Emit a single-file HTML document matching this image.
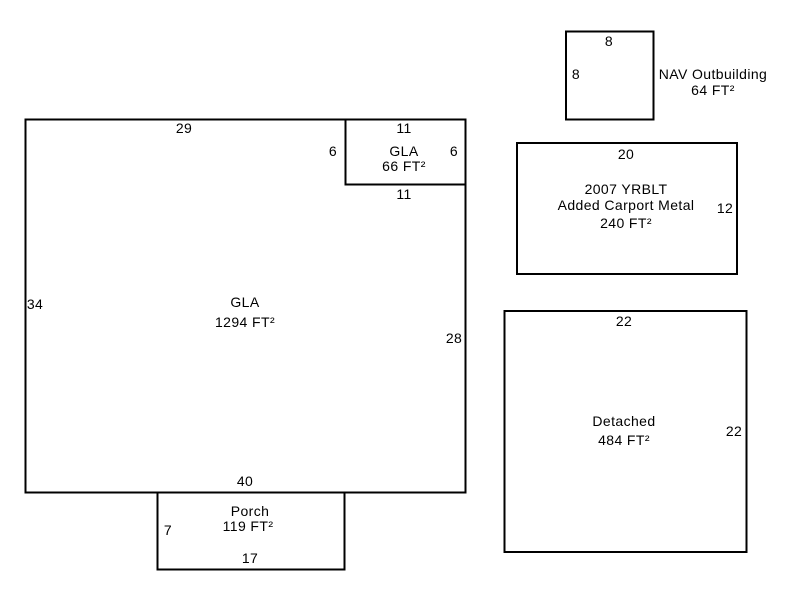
<!DOCTYPE html>
<html><head><style>body{margin:0;background:#fff}svg{display:block}</style></head><body>
<svg width="800" height="600" xmlns="http://www.w3.org/2000/svg" font-family="Liberation Sans, Arial, sans-serif" font-size="14" letter-spacing="0.4" fill="#000">
<g fill="none" stroke="#000" stroke-width="2">
<rect x="25.5" y="119.5" width="440" height="373"/>
<rect x="345.5" y="119.5" width="120" height="65"/>
<rect x="157.5" y="492.5" width="187" height="77"/>
<rect x="566" y="31.5" width="87.5" height="88"/>
<rect x="517" y="143" width="220" height="131"/>
<rect x="504.5" y="311" width="242" height="241"/>
</g>
<g text-anchor="middle">
<text x="184" y="133">29</text>
<text x="35" y="309">34</text>
<text x="245" y="307">GLA</text>
<text x="245" y="327">1294 FT²</text>
<text x="454" y="343">28</text>
<text x="245" y="486">40</text>
<text x="404" y="133">11</text>
<text x="333" y="156">6</text>
<text x="404" y="156">GLA</text>
<text x="404" y="171">66 FT²</text>
<text x="454" y="156">6</text>
<text x="404" y="199">11</text>
<text x="250" y="516">Porch</text>
<text x="248" y="531">119 FT²</text>
<text x="168" y="535">7</text>
<text x="250" y="563">17</text>
<text x="609" y="46">8</text>
<text x="576" y="79">8</text>
<text x="713" y="79">NAV Outbuilding</text>
<text x="713" y="95">64 FT²</text>
<text x="626" y="159">20</text>
<text x="626" y="194">2007 YRBLT</text>
<text x="626" y="210">Added Carport Metal</text>
<text x="626" y="228">240 FT²</text>
<text x="725" y="213">12</text>
<text x="624" y="326">22</text>
<text x="624" y="426">Detached</text>
<text x="624" y="445">484 FT²</text>
<text x="734" y="436">22</text>
</g>
</svg>
</body></html>
